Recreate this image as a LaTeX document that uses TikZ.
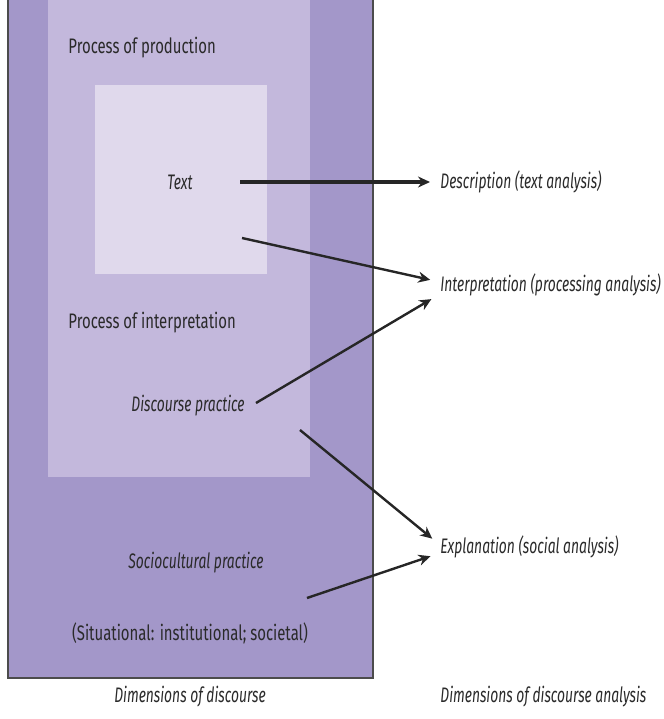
\documentclass[tikz,border=0pt]{standalone}
\usepackage{fontspec}
\setmainfont[FakeStretch=0.71,ItalicFeatures={FakeStretch=0.66}]{Fira Sans}
\usetikzlibrary{arrows.meta}
\definecolor{outerpurple}{HTML}{A397C9}
\definecolor{midpurple}{HTML}{C3B8DC}
\definecolor{innerpurple}{HTML}{E0D9EC}
\definecolor{inkgray}{HTML}{2A2A2A}
\tikzset{
  lbl/.style={font=\fontsize{10.5}{12}\selectfont, text=inkgray, inner sep=0pt},
  ilbl/.style={lbl, font=\fontsize{10.5}{12}\selectfont\itshape},
  arr/.style={-{Stealth[length=6pt,width=5.5pt]}, line width=1.2pt, draw=black!85, shorten >=5pt},
}
\begin{document}
\begin{tikzpicture}[x=0.5pt,y=-0.5pt]
	\useasboundingbox (0,0) rectangle (664,719);
	%boxes
	\fill[outerpurple] (8,0) rectangle (373,678);
	\draw[black!70,line width=0.8pt] (8,0) -- (8,678) -- (373,678) -- (373,0);
	\fill[midpurple] (48,0) rectangle (310,477);
	\fill[innerpurple] (95,85) rectangle (267,274);
	%left labels
	\node[lbl, anchor=west] (prod) at (68,48) {Process of production};
	\node[ilbl] (text) at (180,182) {Text};
	\node[lbl, anchor=west] (procint) at (68,323) {Process of interpretation};
	\node[ilbl] (disc) at (188,406) {Discourse practice};
	\node[ilbl] (socio) at (196,563) {Sociocultural practice};
	\node[lbl] (situ) at (190,633) {(Situational: institutional; societal)};
	\node[ilbl] (dimdisc) at (190,697) {Dimensions of discourse};
	%right labels
	\node[ilbl, anchor=west] (descr) at (440,182) {Description (text analysis)};
	\node[ilbl, anchor=west] (interp) at (440,285) {Interpretation (processing analysis)};
	\node[ilbl, anchor=west] (expl) at (440,547) {Explanation (social analysis)};
	\node[ilbl, anchor=west] (dimana) at (440,697) {Dimensions of discourse analysis};
	%arrows
	\coordinate (textout) at (240,182);
	\coordinate (textdown) at (242,238);
	\coordinate (discout) at (256,403);
	\coordinate (discdown) at (300,430);
	\coordinate (sociout) at (307,598);
	\draw[arr, line width=1.7pt] (textout) -- (descr.west);
	\draw[arr] (textdown) -- ([yshift=1.5pt]interp.west);
	\draw[arr] (discout) -- ([yshift=-4.5pt]interp.west);
	\draw[arr] (discdown) -- ([yshift=1pt]expl.west);
	\draw[arr] (sociout) -- ([yshift=-3pt]expl.west);
\end{tikzpicture}
\end{document}
